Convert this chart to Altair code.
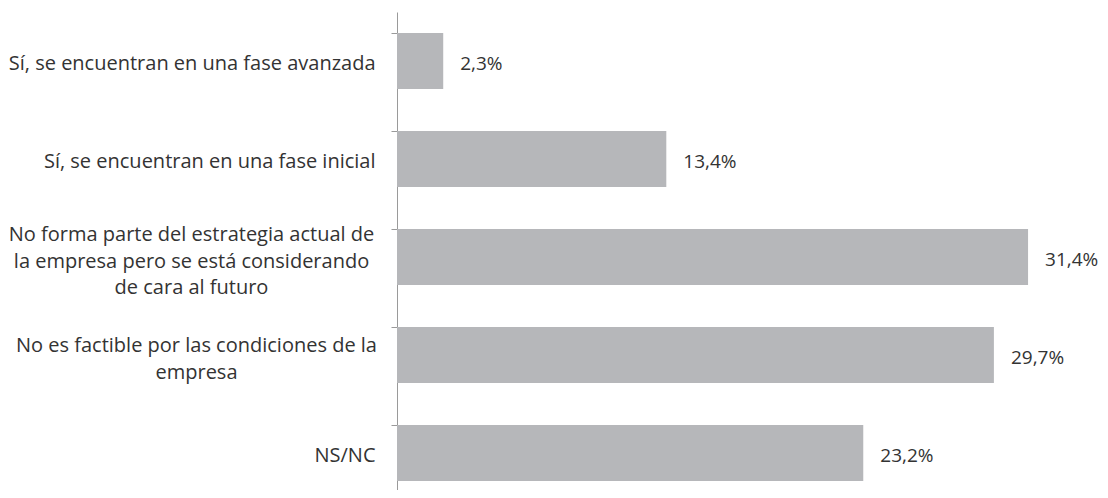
import altair as alt
import pandas as pd

categories = [
    "Sí, se encuentran en una fase avanzada",
    "Sí, se encuentran en una fase inicial",
    "No forma parte del estrategia actual de|la empresa pero se está considerando|de cara al futuro",
    "No es factible por las condiciones de la|empresa",
    "NS/NC",
]
values = [2.3, 13.4, 31.4, 29.7, 23.2]
value_labels = ["2,3%", "13,4%", "31,4%", "29,7%", "23,2%"]

df = pd.DataFrame({"cat": categories, "val": values, "lab": value_labels})

FONT = "Open Sans"
FS = 20
TXT = "#333333"
BAR = "#b6b7ba"
XDOM = [0, 34.83]

y_enc = alt.Y(
    "cat:N",
    sort=categories,
    title=None,
    scale=alt.Scale(paddingInner=0.43, paddingOuter=0.215),
    axis=alt.Axis(
        bandPosition=0,
        tickSize=6,
        tickColor="#9a9a9a",
        domainColor="#9a9a9a",
        labelFont=FONT,
        labelFontSize=FS,
        labelColor=TXT,
        labelLimit=0,
        labelLineHeight=26.5,
        labelExpr="split(datum.label, '|')",
        labelAlign={
            "condition": {"test": "indexof(datum.value, '|') >= 0", "value": "center"},
            "value": "right",
        },
        labelPadding={
            "condition": [
                {"test": "indexof(datum.value, 'No forma') >= 0", "value": 200},
                {"test": "indexof(datum.value, 'No es') >= 0", "value": 195},
            ],
            "value": 16,
        },
        labelOffset={
            "condition": [
                {"test": "indexof(datum.value, 'No forma') >= 0", "value": -22},
                {"test": "indexof(datum.value, 'No es') >= 0", "value": -9},
            ],
            "value": 3,
        },
    ),
)

bars = alt.Chart(df).mark_bar(color=BAR).encode(
    x=alt.X("val:Q", axis=None, scale=alt.Scale(domain=XDOM)),
    y=y_enc,
)

text = alt.Chart(df).mark_text(
    align="left", baseline="middle", dx=17, dy=3, font=FONT, fontSize=19, color=TXT
).encode(
    x=alt.X("val:Q", scale=alt.Scale(domain=XDOM)),
    y=alt.Y("cat:N", sort=categories),
    text="lab:N",
)

chart = (
    alt.layer(bars, text)
    .properties(
        width=700,
        height=490,
        autosize=alt.AutoSizeParams(type="none"),
        padding={"left": 389, "top": 4, "right": 3, "bottom": -12},
        background="white",
    )
    .configure_view(stroke=None)
)

chart.save("out.html", embed_options={"renderer": "svg", "actions": False})
